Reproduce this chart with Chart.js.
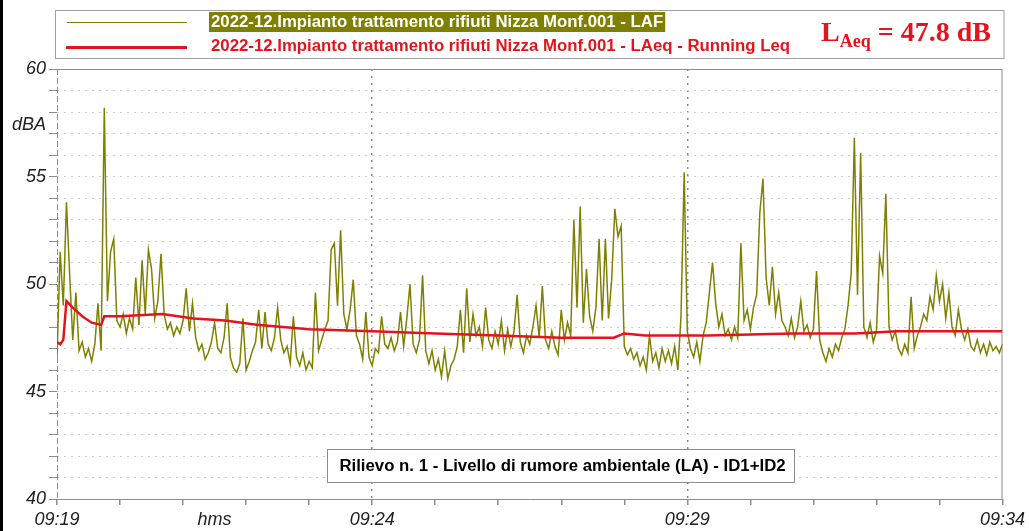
<!DOCTYPE html>
<html>
<head>
<meta charset="utf-8">
<title>Rilievo n. 1 - Livello di rumore ambientale</title>
<script src="https://cdn.jsdelivr.net/npm/chart.js@4.4.1/dist/chart.umd.min.js"></script>
<style>
    html, body { margin: 0; padding: 0; background: #fff; }
    #wrap { width: 1029px; height: 531px; }
</style>
</head>
<body>
<div id="wrap"><canvas id="noise-chart" width="1029" height="531"></canvas></div>
<script>
// LAF level, one reading every 3 s starting at 09:19:00 (dBA)
const lafStep = 3;
const lafValues = [
    46.6, 51.5, 49.0, 53.8, 50.5, 47.4, 49.6, 46.9, 47.3, 46.6,
    47.0, 46.4, 47.2, 49.1, 46.9, 58.2, 49.2, 51.5, 52.1, 48.3,
    48.0, 48.6, 47.7, 48.4, 47.9, 50.3, 48.1, 51.1, 48.6, 51.6,
    50.7, 48.4, 49.2, 51.4, 48.6, 47.9, 48.2, 47.6, 48.0, 47.7,
    48.3, 49.8, 47.8, 49.1, 47.5, 46.9, 47.2, 46.5, 46.8, 47.3,
    48.2, 47.0, 46.8, 47.5, 49.1, 46.6, 46.1, 45.9, 46.3, 48.4,
    46.0, 46.4, 46.9, 47.3, 48.8, 47.0, 48.7, 47.2, 46.9, 47.5,
    48.9, 47.4, 46.8, 47.1, 46.3, 48.5, 46.6, 46.2, 46.8, 46.0,
    46.4, 46.1, 49.6, 46.9, 47.4, 47.9, 48.3, 51.6, 51.9, 49.0,
    52.5, 48.6, 47.9, 48.8, 50.2, 47.6, 47.2, 46.5, 48.7, 46.6,
    46.2, 47.0, 46.8, 48.5, 47.2, 47.0, 47.5, 46.9, 47.3, 48.7,
    47.1, 48.4, 50.0, 47.2, 46.8, 47.4, 50.4, 46.9, 46.3, 46.9,
    46.0, 46.5, 45.7, 46.9, 45.6, 46.2, 46.5, 47.1, 48.8, 46.8,
    49.8, 47.3, 48.6, 47.6, 48.0, 47.1, 48.9, 47.4, 47.0, 47.8,
    47.2, 48.3, 46.9, 47.9, 47.1, 47.8, 49.5, 47.3, 46.8, 47.6,
    47.2, 48.0, 49.0, 47.5, 49.9, 47.4, 47.0, 47.8, 47.1, 46.7,
    48.8, 47.4, 48.2, 47.6, 53.0, 48.9, 53.6, 48.2, 50.7, 48.5,
    47.8, 48.9, 52.1, 48.3, 52.1, 48.4, 50.2, 53.5, 52.2, 52.7,
    47.1, 46.7, 47.0, 46.5, 46.8, 46.2, 46.6, 46.0, 47.6, 46.4,
    46.8, 46.1, 47.0, 46.4, 46.9, 46.3, 47.1, 46.0, 48.5, 55.2,
    47.8, 47.0, 46.6, 47.3, 46.4, 47.6, 48.2, 49.6, 51.0, 49.1,
    48.0, 48.6, 47.6, 47.9, 47.4, 48.0, 47.5, 51.9, 48.3, 48.8,
    47.9, 48.9, 49.5, 53.3, 54.9, 50.3, 49.0, 50.8, 48.6, 49.6,
    48.3, 48.0, 47.6, 48.4, 47.5, 48.0, 49.2, 47.8, 48.1, 47.5,
    47.9, 50.6, 47.4, 46.8, 46.4, 47.0, 46.6, 47.2, 46.9, 47.5,
    47.9, 49.0, 50.5, 56.8, 49.5, 56.1, 48.0, 47.5, 48.2, 47.3,
    47.8, 51.3, 50.5, 54.2, 48.0, 47.4, 47.8, 47.0, 46.7, 47.2,
    46.8, 49.4, 47.0, 47.6, 48.0, 48.6, 48.3, 49.4, 48.8, 50.4,
    49.2, 50.0, 48.4, 49.6, 48.0, 47.6, 48.8, 47.9, 47.4, 47.9,
    47.1, 46.9, 47.4, 46.8, 47.2, 46.7, 47.3, 46.9, 47.1, 46.8,
    47.2
];

// running Leq: seconds from 09:19:00 and level in dBA
const leqTimes = [0, 3, 6, 9, 15, 24, 33, 42, 45, 60, 100, 130, 160, 190, 240, 300, 360, 420, 480, 530, 540, 560, 620, 700, 760, 800, 900];
const leqValues = [47.3, 47.2, 47.4, 49.2, 48.9, 48.5, 48.2, 48.1, 48.5, 48.5, 48.6, 48.4, 48.3, 48.1, 47.9, 47.8, 47.7, 47.6, 47.5, 47.5, 47.7, 47.6, 47.6, 47.7, 47.7, 47.8, 47.8];

const seriesNames = [
    '2022-12.Impianto trattamento rifiuti Nizza Monf.001 - LAF',
    '2022-12.Impianto trattamento rifiuti Nizza Monf.001 - LAeq - Running Leq'
];

// x axis: minute ticks, labels every 5 minutes, unit caption in between
const xLabelSeconds = [0, 150, 300, 600, 900];
const xLabelTexts = ['09:19', 'hms', '09:24', '09:29', '09:34'];
const yLabelValues = [40, 45, 50, 55, 60];
const yUnit = 'dBA';
const noteText = 'Rilievo n. 1 - Livello di rumore ambientale (LA) - ID1+ID2';

const OLIVE = '#808000';
const RED = '#e3141c';
const SANS = 'Arial, "Liberation Sans", sans-serif';
const SERIF = '"Times New Roman", "Liberation Serif", serif';

const sheetDecor = {
    id: 'sheetDecor',
    beforeDraw(chart) {
        const ctx = chart.ctx;
        ctx.save();
        ctx.fillStyle = '#fff';
        ctx.fillRect(0, 0, chart.width, chart.height);
        ctx.fillStyle = '#000';
        ctx.fillRect(0, 0, 3, chart.height);
        ctx.restore();
    },
    beforeDatasetsDraw(chart) {
        // plot frame: solid top/right, dashed left axis
        const { ctx, chartArea: a } = chart;
        ctx.save();
        ctx.strokeStyle = '#8c8c8c';
        ctx.lineWidth = 1;
        ctx.beginPath();
        ctx.moveTo(a.left, a.top + 0.5);
        ctx.lineTo(a.right, a.top + 0.5);
        ctx.moveTo(a.right - 0.5, a.top);
        ctx.lineTo(a.right - 0.5, a.bottom);
        ctx.stroke();
        ctx.setLineDash([6, 3]);
        ctx.beginPath();
        ctx.moveTo(a.left + 0.5, a.top);
        ctx.lineTo(a.left + 0.5, a.bottom);
        ctx.stroke();
        ctx.restore();
    },
    afterDraw(chart) {
        const { ctx, chartArea: a } = chart;
        const ds = chart.data.datasets;
        const yScale = chart.scales.y;
        ctx.save();

        // legend box
        ctx.strokeStyle = '#a0a0a0';
        ctx.lineWidth = 1;
        ctx.strokeRect(a.left - 1.5, 10.5, a.right - a.left + 3, 48);

        ctx.font = 'bold 16.8px ' + SANS;
        ctx.textBaseline = 'middle';
        ctx.textAlign = 'left';

        ctx.strokeStyle = ds[0].borderColor;
        ctx.lineWidth = 1;
        ctx.beginPath();
        ctx.moveTo(67, 22.5);
        ctx.lineTo(187, 22.5);
        ctx.stroke();
        const w0 = ctx.measureText(ds[0].label).width;
        ctx.fillStyle = OLIVE;
        ctx.fillRect(209, 12, w0 + 4, 20);
        ctx.fillStyle = '#fff';
        ctx.fillText(ds[0].label, 211, 22.5);

        ctx.strokeStyle = ds[1].borderColor;
        ctx.lineWidth = 3;
        ctx.beginPath();
        ctx.moveTo(66, 47.5);
        ctx.lineTo(187, 47.5);
        ctx.stroke();
        ctx.fillStyle = RED;
        ctx.fillText(ds[1].label, 211, 46.5);

        // overall LAeq = last running Leq value
        const total = leqValues[leqValues.length - 1];
        ctx.textBaseline = 'alphabetic';
        let x = 821;
        ctx.font = 'bold 28px ' + SERIF;
        ctx.fillText('L', x, 41);
        x += ctx.measureText('L').width;
        ctx.font = 'bold 18px ' + SERIF;
        ctx.fillText('Aeq', x, 47);
        x += ctx.measureText('Aeq').width;
        ctx.font = 'bold 28px ' + SERIF;
        ctx.fillText(' = ' + total.toFixed(1) + ' dB', x, 41);

        // unit caption on the y axis
        ctx.font = 'italic 18px ' + SANS;
        ctx.fillStyle = '#222';
        ctx.textAlign = 'right';
        ctx.textBaseline = 'middle';
        ctx.fillText(yUnit, 46, yScale.getPixelForValue(57.4));

        // measurement caption box
        const bx = 327, by = 449, bw = 467, bh = 33;
        ctx.fillStyle = '#fff';
        ctx.fillRect(bx, by, bw, bh);
        ctx.strokeStyle = '#8c8c8c';
        ctx.lineWidth = 1;
        ctx.strokeRect(bx + 0.5, by + 0.5, bw, bh);
        ctx.font = 'bold 16.8px ' + SANS;
        ctx.fillStyle = '#000';
        ctx.textAlign = 'center';
        ctx.fillText(noteText, bx + bw / 2 + 2, by + bh / 2 + 1);

        ctx.restore();
    }
};

const ctx = document.getElementById('noise-chart').getContext('2d');
const noiseChart = new Chart(ctx, {
    type: 'line',
    data: {
        datasets: [{
            label: seriesNames[0],
            data: lafValues.map((v, i) => ({ x: i * lafStep, y: v })),
            borderColor: OLIVE,
            borderWidth: 1.5,
            pointRadius: 0,
            tension: 0,
            order: 1
        }, {
            label: seriesNames[1],
            data: leqTimes.map((t, i) => ({ x: t, y: leqValues[i] })),
            borderColor: RED,
            borderWidth: 2.5,
            pointRadius: 0,
            tension: 0,
            order: 0
        }]
    },
    options: {
        responsive: false,
        animation: false,
        events: [],
        layout: { padding: { top: 69, right: 26, left: 0, bottom: 0 } },
        plugins: {
            legend: { display: false },
            tooltip: { enabled: false }
        },
        scales: {
            x: {
                type: 'linear',
                min: 0,
                max: 900,
                afterBuildTicks(scale) {
                    const ticks = [];
                    for (let t = 0; t <= 900; t += 60) ticks.push({ value: t });
                    ticks.push({ value: xLabelSeconds[1] });
                    ticks.sort((p, q) => p.value - q.value);
                    scale.ticks = ticks;
                },
                afterFit(scale) { scale.height = 32; },
                ticks: {
                    autoSkip: false,
                    maxRotation: 0,
                    padding: 4,
                    color: '#222',
                    font: { family: SANS, size: 18, style: 'italic' },
                    callback(value) {
                        const k = xLabelSeconds.indexOf(value);
                        return k >= 0 ? xLabelTexts[k] : '';
                    }
                },
                grid: {
                    lineWidth: 1.5,
                    color(c) {
                        const v = c.tick && c.tick.value;
                        return (v === 300 || v === 600) ? '#8a8a8a' : 'rgba(0,0,0,0)';
                    },
                    tickColor(c) {
                        return c.tick && c.tick.value === xLabelSeconds[1] ? 'rgba(0,0,0,0)' : '#8c8c8c';
                    },
                    tickLength: 6
                },
                border: { display: true, color: '#8c8c8c', width: 1, dash: [2, 5] }
            },
            y: {
                min: 40,
                max: 60,
                afterFit(scale) { scale.width = 57; },
                ticks: {
                    stepSize: 1,
                    autoSkip: false,
                    padding: 3,
                    color: '#222',
                    font: { family: SANS, size: 18, style: 'italic' },
                    callback(value) {
                        return yLabelValues.includes(value) ? String(value) : '';
                    }
                },
                grid: {
                    lineWidth: 1,
                    color(c) {
                        const v = c.tick && c.tick.value;
                        return (v === 40 || v === 60) ? 'rgba(0,0,0,0)' : '#cdcdcd';
                    },
                    tickColor: '#8c8c8c',
                    tickLength: 8
                },
                border: { display: false, dash: [2, 5] }
            }
        }
    },
    plugins: [sheetDecor]
});
</script>
</body>
</html>
